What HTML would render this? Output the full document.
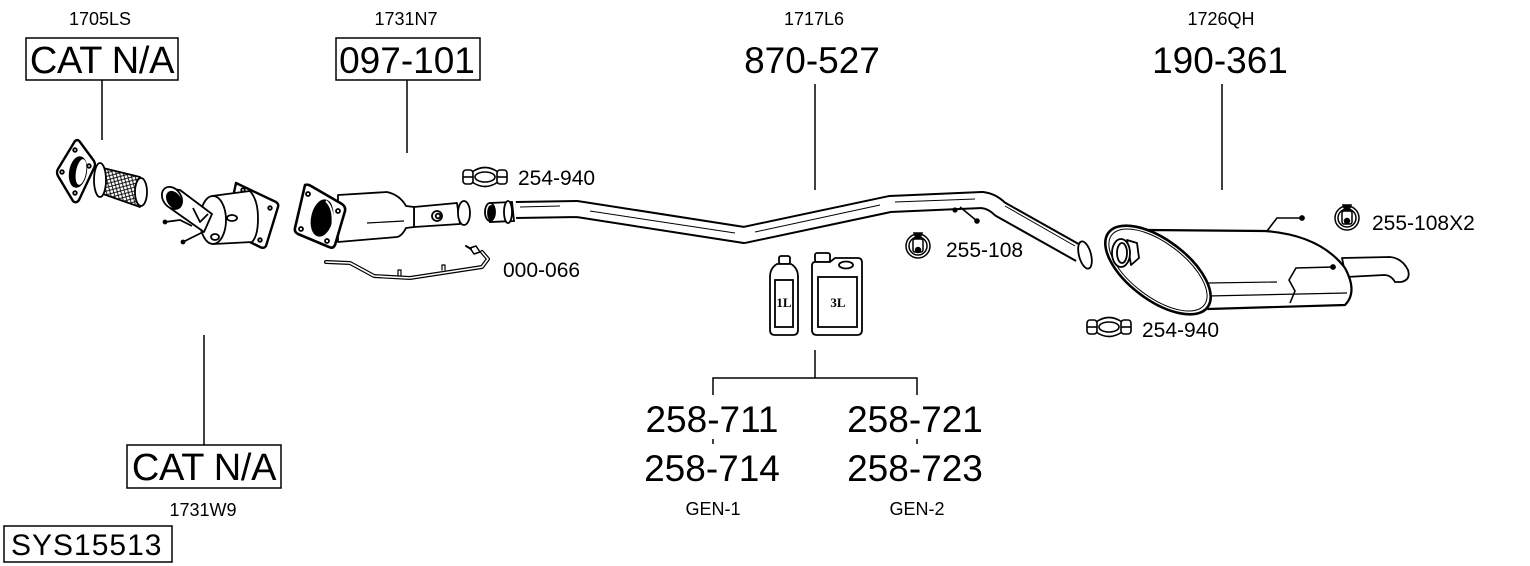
<!DOCTYPE html>
<html><head><meta charset="utf-8"><style>
html,body{margin:0;padding:0;background:#fff;}
svg{display:block;}
text{font-family:"Liberation Sans",Arial,sans-serif;fill:#000;}
</style></head><body>
<svg width="1530" height="566" viewBox="0 0 1530 566" xmlns="http://www.w3.org/2000/svg">
<defs>
<pattern id="mesh" width="5" height="5" patternUnits="userSpaceOnUse" patternTransform="rotate(30)">
<rect width="5" height="5" fill="#fff"/>
<path d="M0,0 L5,5 M5,0 L0,5" stroke="#000" stroke-width="0.9"/>
</pattern>
</defs>
<rect width="1530" height="566" fill="#fff"/>

<!-- top small labels -->
<g font-size="18" text-anchor="middle">
<text x="100" y="25">1705LS</text>
<text x="406" y="25">1731N7</text>
<text x="814" y="25">1717L6</text>
<text x="1221" y="25">1726QH</text>
</g>

<!-- big labels -->
<rect x="26" y="38" width="152" height="42" fill="none" stroke="#000" stroke-width="1.5"/>
<text x="102" y="73" font-size="38" text-anchor="middle" letter-spacing="-0.3">CAT N/A</text>
<rect x="336" y="38" width="144" height="42" fill="none" stroke="#000" stroke-width="1.5"/>
<text x="407" y="73" font-size="37" text-anchor="middle">097-101</text>
<text x="812" y="73" font-size="37" text-anchor="middle">870-527</text>
<text x="1220" y="73" font-size="37" text-anchor="middle">190-361</text>

<!-- connector lines -->
<g stroke="#000" stroke-width="1.5">
<line x1="102" y1="80" x2="102" y2="140"/>
<line x1="407" y1="80" x2="407" y2="153"/>
<line x1="815" y1="84" x2="815" y2="190"/>
<line x1="1222" y1="84" x2="1222" y2="190"/>
<line x1="204" y1="335" x2="204" y2="445"/>
<line x1="815" y1="350" x2="815" y2="378"/>
<polyline points="713,395 713,378 917,378 917,395" fill="none"/>
<line x1="713" y1="439" x2="713" y2="444"/>
<line x1="917" y1="439" x2="917" y2="444"/>
</g>

<!-- flex pipe 1705LS -->
<g stroke="#000" stroke-width="1.8" stroke-linejoin="round">
<path d="M103,168 L140,177 L140,207 L103,194 Z" fill="url(#mesh)"/>
<ellipse cx="141" cy="192" rx="6" ry="14" fill="#fff"/>
<ellipse cx="100" cy="180" rx="6" ry="17" fill="#fff"/>
<path d="M75,141 Q78,139 80,142 L94,161 Q96,165 94,168 L79,200 Q76,204 73,201 L58,176 Q56,172 58,169 Z" fill="#fff" stroke-width="2.4"/>
<ellipse cx="78" cy="172" rx="8" ry="15" fill="#000" transform="rotate(10 78 172)"/>
<ellipse cx="81" cy="172" rx="5" ry="13" fill="#fff" stroke="none" transform="rotate(10 81 172)"/>
<circle cx="75" cy="150" r="1.8" fill="#fff"/>
<circle cx="89" cy="166" r="1.8" fill="#fff"/>
<circle cx="75" cy="193" r="1.8" fill="#fff"/>
<circle cx="62" cy="172" r="1.8" fill="#fff"/>
</g>

<!-- catalyst 1731W9 -->
<g stroke="#000" stroke-width="1.8" stroke-linejoin="round">
<path d="M236,183 L276,202 Q279,204 278,207 L266,246 Q264,249 260,247 L226,230 Z" fill="#fff" stroke-width="2.4"/>
<circle cx="243" cy="190" r="1.8" fill="#fff"/>
<circle cx="270" cy="208" r="1.8" fill="#fff"/>
<circle cx="260" cy="240" r="1.8" fill="#fff"/>
<path d="M212,196 L250,191 Q258,200 258,218 Q258,236 252,242 L214,244 Z" fill="#fff"/>
<ellipse cx="213" cy="220" rx="13" ry="24" fill="#fff"/>
<path d="M166,188 L180,190 L212,214 L204,232 L170,208 Z" fill="#fff"/>
<ellipse cx="172" cy="198" rx="9" ry="12" fill="#fff" transform="rotate(-35 172 198)"/>
<ellipse cx="174" cy="200" rx="6" ry="9" fill="#000" transform="rotate(-35 174 200)"/>
<path d="M193,208 L200,222 L208,214" fill="none"/>
<ellipse cx="232" cy="218" rx="5" ry="3" fill="#fff"/>
<ellipse cx="215" cy="237" rx="4" ry="3" fill="#fff"/>
<path d="M165,222 L180,220 L192,226" fill="none"/>
<path d="M183,242 L195,236 L203,232" fill="none"/>
<circle cx="165" cy="222" r="1.5" fill="#000"/>
<circle cx="183" cy="242" r="1.5" fill="#000"/>
</g>

<!-- DPF 097-101 -->
<g stroke="#000" stroke-width="1.8" stroke-linejoin="round">
<path d="M414,207 L457,203 L460,224 L414,227 Z" fill="#fff"/>
<ellipse cx="464" cy="213" rx="6" ry="12" fill="#fff"/>
<circle cx="437" cy="216" r="5" fill="#fff"/>
<circle cx="438" cy="216" r="2.3" fill="#fff"/>
<path d="M338,195 L387,192 Q400,195 406,206 L414,207 L414,227 L406,228 Q402,236 397,237 L338,242 Z" fill="#fff"/>
<line x1="367" y1="223" x2="404" y2="221" stroke-width="1.2"/>
<path d="M305,185 Q308,184 311,186 L342,204 Q346,207 345,211 L335,245 Q333,249 329,247 L298,234 Q294,232 295,228 Z" fill="#fff" stroke-width="2.6"/>
<ellipse cx="322" cy="218" rx="10" ry="18" fill="#000" transform="rotate(12 322 218)"/>
<path d="M326,201 Q336,210 331,234" fill="none" stroke="#fff" stroke-width="2"/>
<circle cx="308" cy="194" r="2" fill="#fff"/>
<circle cx="338" cy="211" r="2" fill="#fff"/>
<circle cx="327" cy="241" r="2" fill="#fff"/>
<circle cx="301" cy="229" r="2" fill="#fff"/>
</g>

<!-- sensor wire 000-066 -->
<g fill="none" stroke-linejoin="round" stroke-linecap="round">
<polyline points="326,262 350,263 363,270 374,276 410,278 482,267 488,259 482,252" stroke="#000" stroke-width="4"/>
<polyline points="326,262 350,263 363,270 374,276 410,278 482,267 488,259 482,252" stroke="#fff" stroke-width="1.6"/>
<path d="M398,276 L398,270 L401,270 L401,276 M442,270 L442,265 L445,265 L445,270" stroke="#000" stroke-width="1.2"/>
<path d="M470,248 L476,246 L480,252 L474,254 Z" fill="#fff" stroke="#000" stroke-width="1.5"/>
<line x1="466" y1="246" x2="471" y2="249" stroke="#000" stroke-width="2"/>
</g>

<!-- clamp top -->
<g stroke="#000" stroke-width="1.6" fill="#fff">
<path d="M472,172 Q485,163 498,172 L498,182 Q485,191 472,182 Z"/>
<ellipse cx="485" cy="177" rx="10" ry="5"/>
<rect x="463" y="170" width="10" height="14" rx="3"/>
<rect x="497" y="170" width="10" height="14" rx="3"/>
<line x1="463" y1="177" x2="473" y2="177"/>
<line x1="497" y1="177" x2="507" y2="177"/>
</g>
<text x="518" y="185" font-size="21">254-940</text>
<text x="503" y="277" font-size="21">000-066</text>

<!-- main pipe 870-527 -->
<g fill="none" stroke-linejoin="round">
<path d="M516,210 L577,209 L744,235 L890,204 L982,200 Q992,201 1000,209 L1080,254" stroke="#000" stroke-width="18"/>
<path d="M516,210 L577,209 L744,235 L890,204 L982,200 Q992,201 1000,209 L1080,254" stroke="#fff" stroke-width="14"/>
<g stroke="#000" stroke-width="1">
<line x1="520" y1="207" x2="560" y2="206"/>
<line x1="590" y1="211" x2="735" y2="233"/>
<line x1="755" y1="232" x2="880" y2="205"/>
<line x1="895" y1="202" x2="975" y2="199"/>
<line x1="1005" y1="206" x2="1075" y2="246"/>
</g>
</g>
<g stroke="#000" stroke-width="1.8" fill="#fff">
<path d="M490,203 L512,202 L514,221 L490,222 Z"/>
<ellipse cx="490" cy="212" rx="5" ry="9"/>
<ellipse cx="491" cy="213" rx="3" ry="7" fill="#000"/>
<ellipse cx="508" cy="212" rx="4" ry="11"/>
<ellipse cx="1085" cy="255" rx="6" ry="14" transform="rotate(-15 1085 255)"/>
</g>
<g stroke="#000" stroke-width="1.6">
<line x1="960" y1="207" x2="977" y2="221"/>
<circle cx="977" cy="221" r="2" fill="#000"/>
<circle cx="955" cy="210" r="1.8" fill="#000"/>
</g>

<!-- rubber hanger 255-108 -->
<g stroke="#000" stroke-width="1.5" fill="#fff">
<circle cx="918" cy="246" r="12"/>
<circle cx="918" cy="246" r="9"/>
<rect x="913" y="239" width="10" height="13" rx="2"/>
<circle cx="918" cy="250" r="2.5" fill="#000"/>
<path d="M914,233 L922,233 L920,238 L916,238 Z" fill="#000"/>
</g>
<text x="946" y="257" font-size="21">255-108</text>

<!-- jugs -->
<g stroke="#000" stroke-width="1.8" fill="#fff">
<rect x="779" y="256" width="11" height="8" rx="2"/>
<path d="M777,264 L791,264 Q798,268 798,277 L798,330 Q798,335 793,335 L775,335 Q770,335 770,330 L770,277 Q770,268 777,264 Z"/>
<rect x="775" y="280" width="18" height="47"/>
<rect x="815" y="253" width="15" height="9" rx="2"/>
<path d="M815,262 L830,262 L835,258 L858,258 Q862,258 862,263 L862,330 Q862,335 857,335 L817,335 Q812,335 812,330 L812,266 Q812,262 815,262 Z"/>
<ellipse cx="846" cy="265" rx="7" ry="3.5"/>
<rect x="818" y="277" width="39" height="50"/>
</g>
<g font-weight="bold" font-size="13" text-anchor="middle">
<text x="784" y="307" style="font-family:'Liberation Serif',serif">1L</text>
<text x="838" y="307" style="font-family:'Liberation Serif',serif">3L</text>
</g>

<!-- muffler 190-361 -->
<g stroke="#000" stroke-width="1.8" stroke-linejoin="round" fill="#fff">
<path d="M1342,258 L1390,257 Q1402,258 1408,270 Q1411,280 1401,282 L1395,282 Q1391,275 1384,275 L1346,277 Z"/>
<path d="M1267,231 L1277,218 L1302,218" fill="none" stroke-width="1.6"/>
<circle cx="1302" cy="218" r="2" fill="#000"/>
<path d="M1148,230 L1265,231 Q1320,235 1345,268 Q1358,292 1345,305 L1208,309 Z" stroke-width="2.2"/>
<line x1="1208" y1="283" x2="1277" y2="282" stroke-width="1.2"/>
<line x1="1208" y1="296" x2="1347" y2="293" stroke-width="1.2"/>
<ellipse cx="1158" cy="270" rx="62" ry="30" transform="rotate(37 1158 270)" stroke-width="2.6"/>
<ellipse cx="1158" cy="270" rx="58" ry="27" transform="rotate(37 1158 270)" fill="none" stroke-width="1"/>
<path d="M1127,240 L1137,243 L1139,258 L1131,265 Z"/>
<ellipse cx="1121" cy="253" rx="9" ry="14"/>
<ellipse cx="1122" cy="253" rx="5" ry="10"/>
<path d="M1290,303 L1295,291 L1289,280 L1296,268 L1333,267" fill="none" stroke-width="1.6"/>
<circle cx="1333" cy="267" r="2" fill="#000"/>
</g>

<!-- hanger 255-108X2 -->
<g stroke="#000" stroke-width="1.5" fill="#fff">
<circle cx="1347" cy="218" r="12"/>
<circle cx="1347" cy="218" r="9"/>
<rect x="1342" y="211" width="10" height="13" rx="2"/>
<circle cx="1347" cy="221" r="2.5" fill="#000"/>
<path d="M1343,205 L1351,205 L1349,210 L1345,210 Z" fill="#000"/>
</g>
<text x="1372" y="230" font-size="21">255-108X2</text>

<!-- clamp bottom -->
<g stroke="#000" stroke-width="1.6" fill="#fff">
<path d="M1096,322 Q1109,313 1122,322 L1122,332 Q1109,341 1096,332 Z"/>
<ellipse cx="1109" cy="327" rx="10" ry="5"/>
<rect x="1087" y="320" width="10" height="14" rx="3"/>
<rect x="1121" y="320" width="10" height="14" rx="3"/>
<line x1="1087" y1="327" x2="1097" y2="327"/>
<line x1="1121" y1="327" x2="1131" y2="327"/>
</g>
<text x="1142" y="337" font-size="21">254-940</text>

<!-- bottom numbers -->
<g font-size="37" text-anchor="middle">
<text x="712" y="432">258-711</text>
<text x="712" y="481">258-714</text>
<text x="915" y="432">258-721</text>
<text x="915" y="481">258-723</text>
</g>
<g font-size="18" text-anchor="middle">
<text x="713" y="515">GEN-1</text>
<text x="917" y="515">GEN-2</text>
<text x="203" y="516">1731W9</text>
</g>

<!-- bottom CAT N/A -->
<rect x="127" y="445" width="154" height="43" fill="none" stroke="#000" stroke-width="1.5"/>
<text x="204" y="480" font-size="38" text-anchor="middle" letter-spacing="-0.3">CAT N/A</text>

<!-- SYS -->
<rect x="4" y="526" width="168" height="36" fill="none" stroke="#000" stroke-width="1.5"/>
<text x="11" y="555" font-size="30" letter-spacing="1">SYS15513</text>
</svg>
</body></html>
